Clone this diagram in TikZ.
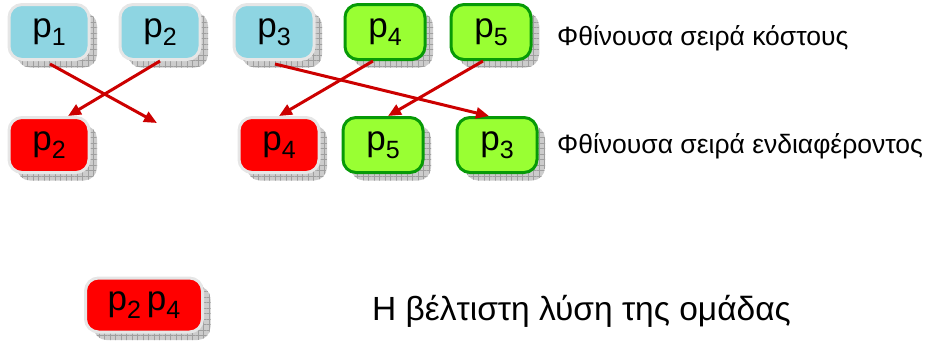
\documentclass[tikz,border=0pt]{standalone}
\usepackage{fontspec}
\setmainfont{Liberation Sans}
\usetikzlibrary{patterns.meta,arrows.meta,calc}
\definecolor{cblue}{HTML}{8ED5E2}
\definecolor{cgreen}{HTML}{99FF33}
\definecolor{cdgreen}{HTML}{079A07}
\definecolor{cred}{HTML}{FF0000}
\definecolor{cedge}{HTML}{E6E6E6}
\definecolor{carrow}{HTML}{CC0000}
\newcommand\psub[1]{p\raisebox{-0.22em}{\fontsize{25}{25}\selectfont #1}}
\tikzset{
  sh/.style={preaction={fill=gray!40,transform canvas={shift={(8pt,-8pt)}}},
             preaction={pattern={Hatch[angle=0,distance=5.5pt,line width=0.5pt]},pattern color=gray!75,transform canvas={shift={(8pt,-8pt)}}}},
  box/.style={sh,rounded corners=13pt,minimum width=80pt,minimum height=55pt,line width=3pt,inner sep=0pt,font=\fontsize{35}{36}\selectfont},
  bluebox/.style={box,fill=cblue,draw=cedge},
  greenbox/.style={box,fill=cgreen,draw=cdgreen},
  redbox/.style={box,fill=cred,draw=cedge},
  arr/.style={draw=carrow,line width=3pt,-{Triangle[length=13pt,width=11pt]}},
  lab/.style={anchor=west,inner sep=0pt,font=\fontsize{26.5}{30}\selectfont},
}
\begin{document}
\begin{tikzpicture}[x=1pt,y=-1pt]
\useasboundingbox (0,0) rectangle (932,341);
% top row
\node[bluebox] (a1) at (49,32) {\psub{1}};
\node[bluebox] (a2) at (160,32) {\psub{2}};
\node[bluebox] (a3) at (274,32) {\psub{3}};
\node[greenbox] (a4) at (385,32) {\psub{4}};
\node[greenbox] (a5) at (491,32) {\psub{5}};
% bottom row
\node[redbox] (b2) at (49,145) {\psub{2}};
\node[redbox] (b4) at (279,145) {\psub{4}};
\node[greenbox] (b5) at (383,145) {\psub{5}};
\node[greenbox] (b3) at (497,145) {\psub{3}};
% result
\node[redbox,minimum width=117pt,minimum height=54pt] (r) at (144,305) {\psub{2}\,\psub{4}};
\coordinate (free) at (157,123);
% arrows
\draw[arr] ($(a1.south)+(1,3)$) -- (free);
\draw[arr] (a2.south) -- ($(b2.north)+(19,0)$);
\draw[arr] ($(a3.south)+(1,3)$) -- ($(b3.north)+(-8,0)$);
\draw[arr] ($(a4.south)+(-12,0)$) -- ($(b4.north)+(0,0)$);
\draw[arr] ($(a5.south)+(-8,0)$) -- ($(b5.north)+(5,0)$);
% labels
\node[lab] (t1) at (557,38) {Φθίνουσα σειρά κόστους};
\node[lab] (t2) at (557,146) {Φθίνουσα σειρά ενδιαφέροντος};
\node[lab,font=\fontsize{33.5}{36}\selectfont] (t3) at (372,311) {Η βέλτιστη λύση της ομάδας};
\end{tikzpicture}
\end{document}
